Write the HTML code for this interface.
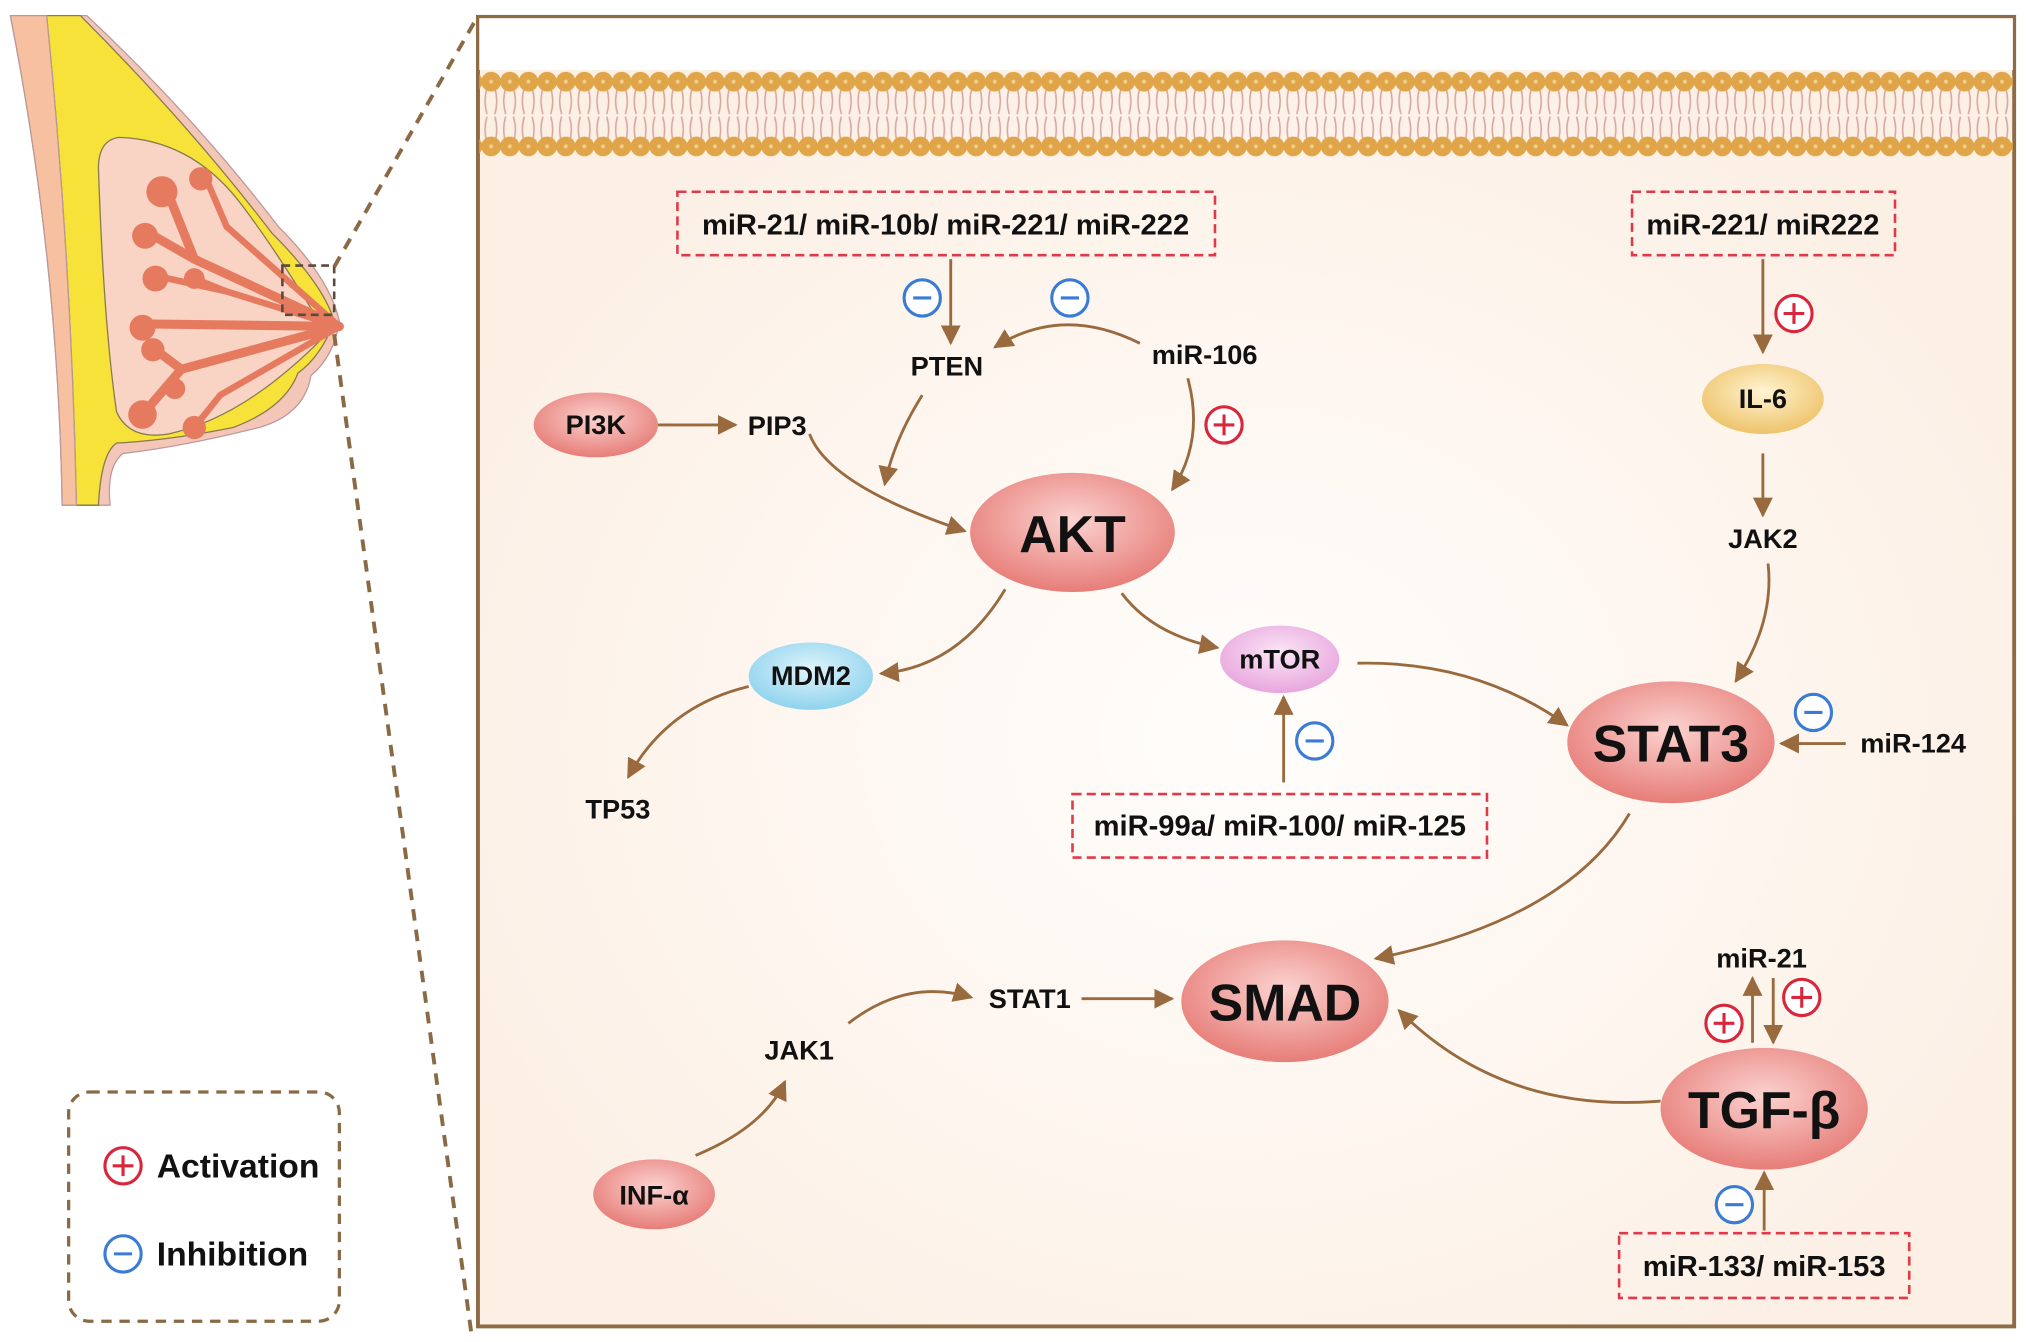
<!DOCTYPE html>
<html><head><meta charset="utf-8"><style>
html,body{margin:0;padding:0;background:#fff}
svg{display:block}
text{font-family:"Liberation Sans",sans-serif;font-weight:bold;fill:#111}
</style></head><body>
<svg width="2031" height="1342" viewBox="0 0 1568 1036" xmlns="http://www.w3.org/2000/svg">
<defs>
<radialGradient id="bg" cx="0.5" cy="0.55" r="0.6"><stop offset="0" stop-color="#fffdfb"/><stop offset="1" stop-color="#fcefe4"/></radialGradient>
<radialGradient id="red" cx="0.5" cy="0.4" r="0.6"><stop offset="0" stop-color="#fbd3d0"/><stop offset="1" stop-color="#e77d78"/></radialGradient>
<radialGradient id="blue" cx="0.5" cy="0.4" r="0.6"><stop offset="0" stop-color="#e0f4fb"/><stop offset="1" stop-color="#8fd3ee"/></radialGradient>
<radialGradient id="pink" cx="0.5" cy="0.4" r="0.6"><stop offset="0" stop-color="#fbe6f6"/><stop offset="1" stop-color="#e8a6de"/></radialGradient>
<radialGradient id="yel" cx="0.5" cy="0.4" r="0.6"><stop offset="0" stop-color="#fff4d2"/><stop offset="1" stop-color="#eec36a"/></radialGradient>
<pattern id="mem" x="372" y="0" width="14.4" height="200" patternUnits="userSpaceOnUse">
<path d="M4,68 q-3,10 0,20 M10,68 q3,10 0,20 M4,90 q-3,10 0,20 M10,90 q3,10 0,20" stroke="#d9a7a0" stroke-width="1.2" fill="none"/>
<circle cx="7.2" cy="63" r="7.6" fill="#e0a548"/><circle cx="7.2" cy="113" r="7.6" fill="#e0a548"/>
<circle cx="7.2" cy="63" r="1.5" fill="#f3d08f"/><circle cx="7.2" cy="113" r="1.5" fill="#f3d08f"/>
</pattern>
<marker id="ar" viewBox="0 0 10 10" refX="9" refY="5" markerWidth="7" markerHeight="7" orient="auto"><path d="M0,0 L10,5 L0,10 z" fill="#9a6a3f"/></marker>
</defs>

<!-- breast -->
<path d="M8,12 L67,12 Q150,90 215,175 Q255,215 262,248 Q258,275 240,290 Q235,320 200,330 Q140,345 95,350 Q82,360 85,390 L48,390 Q45,200 8,12 Z" fill="#f3c6b8" stroke="#b99" stroke-width="1"/>
<path d="M36,12 L62,12 Q145,95 210,180 Q250,220 258,248 Q248,275 230,288 Q220,315 180,330 Q130,340 90,342 Q78,350 76,390 L59,390 Q55,200 36,12 Z" fill="#f7e23a" stroke="#8a7a50" stroke-width="1"/>
<path d="M8,12 L36,12 Q55,200 59,390 L48,390 Q45,200 8,12 Z" fill="#f7c0a0" stroke="#b99" stroke-width="1"/>
<path d="M92,106 Q76,108 76,130 Q80,250 90,318 Q100,340 130,335 Q190,322 252,258 Q218,200 188,160 Q150,108 92,106 Z" fill="#f9d3c3" stroke="#8a7a50" stroke-width="1"/>
<g stroke="#e57a5f" stroke-linecap="round" fill="none">
<path d="M262,252 L150,200 L130,150 M150,200 L115,180 M262,252 L110,250 M262,252 L140,285 L110,320 M140,285 L120,270" stroke-width="7"/>
<path d="M262,252 L175,175 L160,140 M262,252 L175,225 L150,215 M262,252 L170,305 L150,330 M175,225 L130,215" stroke-width="5"/>
</g>
<g fill="#e57a5f"><circle cx="125" cy="148" r="12"/><circle cx="112" cy="182" r="10"/><circle cx="155" cy="138" r="9"/><circle cx="120" cy="215" r="10"/><circle cx="150" cy="215" r="8"/><circle cx="110" cy="253" r="10"/><circle cx="118" cy="270" r="9"/><circle cx="110" cy="320" r="11"/><circle cx="150" cy="330" r="9"/><circle cx="135" cy="300" r="8"/></g>
<rect x="218" y="205" width="40" height="38" fill="none" stroke="#5a4a3a" stroke-width="2" stroke-dasharray="6,4"/>
<line x1="258" y1="206" x2="368" y2="14" stroke="#8a6a45" stroke-width="3" stroke-dasharray="9,7"/>
<line x1="258" y1="258" x2="364" y2="1030" stroke="#8a6a45" stroke-width="3" stroke-dasharray="9,7"/>

<!-- main box -->
<rect x="369" y="13" width="1186" height="1011" fill="url(#bg)" stroke="#8e6a45" stroke-width="3"/>
<rect x="370" y="14" width="1184" height="40" fill="#fff"/>
<rect x="370" y="50" width="1184" height="72" fill="url(#mem)"/>

<!-- legend -->
<rect x="53" y="843" width="209" height="177" rx="16" fill="#fff" stroke="#8a6a45" stroke-width="2.5" stroke-dasharray="8,6"/>

<!-- dashed red boxes -->
<g fill="none" stroke="#e03a4a" stroke-width="2" stroke-dasharray="7,4">
<rect x="523" y="148" width="415" height="49"/>
<rect x="1260" y="148" width="203" height="49"/>
<rect x="828" y="613" width="320" height="49"/>
<rect x="1250" y="952" width="224" height="50"/>
</g>
<g font-size="22.5">
<text x="730" y="181" text-anchor="middle">miR-21/ miR-10b/ miR-221/ miR-222</text>
<text x="1361" y="181" text-anchor="middle">miR-221/ miR222</text>
<text x="988" y="645" text-anchor="middle">miR-99a/ miR-100/ miR-125</text>
<text x="1362" y="985" text-anchor="middle">miR-133/ miR-153</text>
</g>

<!-- arrows -->
<g stroke="#9a6a3f" stroke-width="2.2" fill="none" marker-end="url(#ar)">
<line x1="734" y1="200" x2="734" y2="265"/>
<path d="M880,265 Q820,235 768,268"/>
<path d="M917,292 Q930,340 905,378"/>
<path d="M712,305 Q690,340 683,374"/>
<line x1="508" y1="328" x2="568" y2="328"/>
<path d="M625,335 Q640,375 745,410"/>
<path d="M776,455 Q740,515 680,520"/>
<path d="M866,458 Q890,490 940,500"/>
<path d="M578,530 Q515,545 485,600"/>
<line x1="991" y1="604" x2="991" y2="538"/>
<path d="M1048,512 Q1140,510 1210,560"/>
<line x1="1361" y1="200" x2="1361" y2="272"/>
<line x1="1361" y1="350" x2="1361" y2="398"/>
<path d="M1365,435 Q1370,480 1340,526"/>
<line x1="1425" y1="574" x2="1375" y2="574"/>
<path d="M1258,628 Q1210,710 1062,740"/>
<path d="M1282,850 Q1160,860 1080,780"/>
<line x1="1353" y1="805" x2="1353" y2="755"/>
<line x1="1369" y1="755" x2="1369" y2="805"/>
<line x1="1362" y1="950" x2="1362" y2="905"/>
<line x1="835" y1="771" x2="905" y2="771"/>
<path d="M537,892 Q590,870 606,835"/>
<path d="M655,790 Q700,755 750,770"/>
</g>

<!-- nodes -->
<ellipse cx="460" cy="328" rx="48" ry="25" fill="url(#red)"/>
<ellipse cx="828" cy="411" rx="79" ry="46" fill="url(#red)"/>
<ellipse cx="626" cy="522" rx="48" ry="26" fill="url(#blue)"/>
<ellipse cx="988" cy="509" rx="46" ry="26" fill="url(#pink)"/>
<ellipse cx="1290" cy="573" rx="80" ry="47" fill="url(#red)"/>
<ellipse cx="992" cy="773" rx="80" ry="47" fill="url(#red)"/>
<ellipse cx="1362" cy="856" rx="80" ry="47" fill="url(#red)"/>
<ellipse cx="1361" cy="308" rx="47" ry="27" fill="url(#yel)"/>
<ellipse cx="505" cy="922" rx="47" ry="27" fill="url(#red)"/>

<g text-anchor="middle">
<text x="460" y="335" font-size="21">PI3K</text>
<text x="828" y="426" font-size="40">AKT</text>
<text x="626" y="529" font-size="21">MDM2</text>
<text x="988" y="516" font-size="21">mTOR</text>
<text x="1290" y="588" font-size="40">STAT3</text>
<text x="992" y="788" font-size="40">SMAD</text>
<text x="1362" y="871" font-size="40">TGF-β</text>
<text x="1361" y="315" font-size="21">IL-6</text>
<text x="505" y="930" font-size="21">INF-α</text>
<text x="731" y="290" font-size="21">PTEN</text>
<text x="930" y="281" font-size="21">miR-106</text>
<text x="600" y="336" font-size="21">PIP3</text>
<text x="477" y="632" font-size="21">TP53</text>
<text x="1361" y="423" font-size="21">JAK2</text>
<text x="1477" y="581" font-size="21">miR-124</text>
<text x="617" y="818" font-size="21">JAK1</text>
<text x="795" y="778" font-size="21">STAT1</text>
<text x="1360" y="747" font-size="21">miR-21</text>
</g>
<text x="121" y="909" font-size="26">Activation</text>
<text x="121" y="977" font-size="26">Inhibition</text>

<!-- signs -->
<g fill="#fff" stroke-width="2.4">
<g stroke="#3a7bd5">
<circle cx="712" cy="230" r="14"/><circle cx="826" cy="230" r="14"/><circle cx="1015" cy="572" r="14"/><circle cx="1400" cy="550" r="14"/><circle cx="1339" cy="930" r="14"/><circle cx="95" cy="968" r="14"/>
<path d="M705,230h14M819,230h14M1008,572h14M1393,550h14M1332,930h14M88,968h14" fill="none"/>
</g>
<g stroke="#d8263a">
<circle cx="945" cy="328" r="14"/><circle cx="1385" cy="242" r="14"/><circle cx="1331" cy="790" r="14"/><circle cx="1391" cy="770" r="14"/><circle cx="95" cy="900" r="14"/>
<path d="M937,328h16M945,320v16M1377,242h16M1385,234v16M1323,790h16M1331,782v16M1383,770h16M1391,762v16M87,900h16M95,892v16" fill="none"/>
</g>
</g>
</svg>
</body></html>
